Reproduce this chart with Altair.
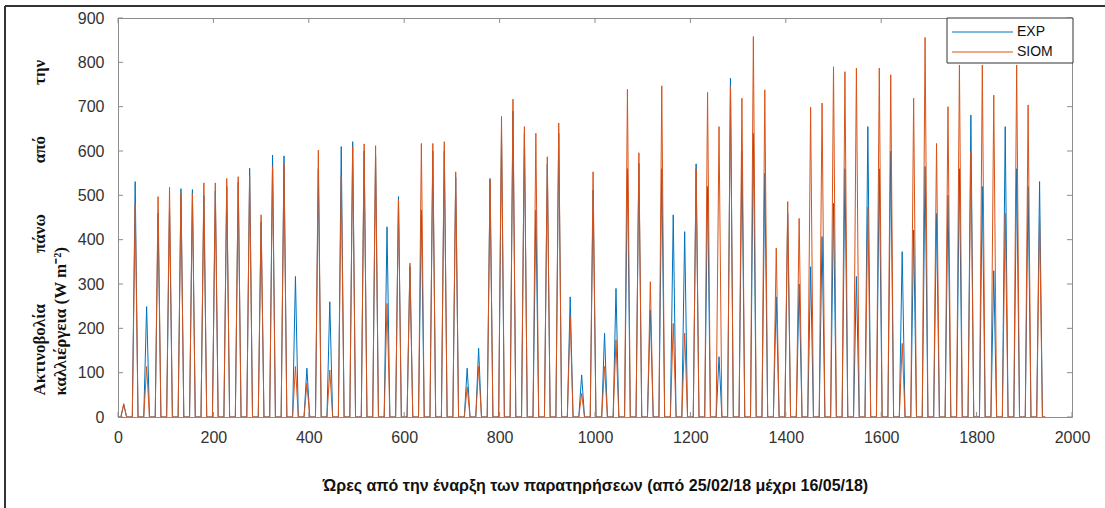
import altair as alt
import pandas as pd

# Daily peak irradiance (W m-2) for each day of the record, measured (EXP) and simulated (SIOM)
exp_peak = [
    28, 531, 249, 460, 470, 515, 513, 500, 510, 520,
    530, 561, 440, 591, 589, 317, 110, 560, 260, 610,
    621, 600, 590, 429, 497, 339, 467, 600, 600, 540,
    110, 155, 538, 640, 690, 640, 467, 570, 640, 271,
    95, 512, 189, 290, 560, 572, 241, 560, 456, 418,
    571, 520, 136, 764, 600, 640, 550, 271, 459, 300,
    339, 407, 482, 560, 317, 655, 560, 600, 373, 422,
    565, 459, 500, 560, 681, 520, 330, 655, 560, 520,
    531,
]
siom_peak = [
    30, 480, 114, 497, 518, 505, 505, 528, 528, 538,
    542, 545, 456, 565, 570, 114, 76, 602, 106, 542,
    610, 616, 612, 256, 490, 347, 617, 617, 621, 553,
    68, 114, 535, 678, 717, 655, 640, 587, 663, 226,
    53, 553, 114, 174, 739, 596, 305, 747, 211, 189,
    560, 732, 655, 745, 719, 858, 738, 381, 486, 448,
    699, 708, 790, 779, 787, 474, 787, 772, 166, 719,
    856, 617, 700, 794, 600, 794, 726, 460, 794, 704,
    450,
]

series_names = ["EXP", "SIOM"]
series_colors = ["#0072BD", "#D95319"]
x_ticks = list(range(0, 2001, 200))
y_ticks = list(range(0, 901, 100))

HOURS_PER_DAY = 24
SUNRISE, NOON, SUNSET = 6, 12, 18

# hourly table: zero overnight, daily peak at midday
rows = []
for name, peaks in zip(series_names, [exp_peak, siom_peak]):
    rows.append({"h": 0, "v": 0, "s": name})
    for d, p in enumerate(peaks):
        base = d * HOURS_PER_DAY
        rows.append({"h": base + SUNRISE, "v": 0, "s": name})
        rows.append({"h": base + NOON, "v": p, "s": name})
        rows.append({"h": base + SUNSET, "v": 0, "s": name})
    rows.append({"h": len(peaks) * HOURS_PER_DAY, "v": 0, "s": name})
df = pd.DataFrame(rows)

W, H = 954, 399
frame_grey = "#8c8c8c"
xs = alt.Scale(domain=[0, 2000], nice=False, zero=False)
ys = alt.Scale(domain=[0, 900], nice=False)

gap = "\u00a0" * 12
y_title = [
    "Ακτινοβολία" + gap + "πάνω" + gap + "από" + gap + "την",
    "καλλιέργεια (W m\u207b\u00b2)",
]

x_axis = alt.Axis(
    values=x_ticks, format="d", tickSize=0, domain=False, grid=False,
    labelFont="Liberation Sans", labelFontSize=16, labelColor="#333333",
    labelPadding=12, labelFlush=False,
    title="Ώρες από την έναρξη των παρατηρήσεων (από 25/02/18 μέχρι 16/05/18)",
    titleFont="Liberation Sans", titleFontSize=16, titleFontWeight="bold",
    titleColor="#111111", titleY=68, titleBaseline="middle",
)
y_axis = alt.Axis(
    values=y_ticks, format="d", tickSize=0, domain=False, grid=False,
    labelFont="Liberation Sans", labelFontSize=16, labelColor="#333333",
    labelPadding=14, labelFlush=False,
    title=y_title, titleFont="Liberation Serif", titleFontSize=17,
    titleFontWeight="bold", titleColor="#111111", titleAngle=270,
    titleAlign="left", titleBaseline="top", titleX=-87, titleY=377,
    titleLineHeight=21,
)
x_enc = alt.X("h:Q", scale=xs, axis=x_axis)
y_enc = alt.Y("v:Q", scale=ys, axis=y_axis)

lines = alt.Chart(df).mark_line(strokeWidth=1, clip=True).encode(
    x=x_enc,
    y=y_enc,
    color=alt.Color("s:N", scale=alt.Scale(domain=series_names, range=series_colors), legend=None),
    order=alt.Order("h:Q"),
)

# inward-pointing ticks on all four sides
xt = pd.DataFrame({"h": x_ticks})
yt = pd.DataFrame({"v": y_ticks})
tick_bottom = alt.Chart(xt).mark_rule(color=frame_grey).encode(
    x=x_enc, y=alt.value(H), y2=alt.value(H - 5))
tick_top = alt.Chart(xt).mark_rule(color=frame_grey).encode(
    x=x_enc, y=alt.value(0), y2=alt.value(5))
tick_left = alt.Chart(yt).mark_rule(color=frame_grey).encode(
    y=y_enc, x=alt.value(0), x2=alt.value(5))
tick_right = alt.Chart(yt).mark_rule(color=frame_grey).encode(
    y=y_enc, x=alt.value(W), x2=alt.value(W - 5))

# legend box in the upper-right corner
legend_box = alt.Chart(alt.Data(values=[{"s": "box"}])).mark_rect(
    fill="white", stroke="#333333", strokeWidth=1
).encode(x=alt.value(829), x2=alt.value(955), y=alt.value(0), y2=alt.value(45))

legend_layers = [legend_box]
for i, (name, col) in enumerate(zip(series_names, series_colors)):
    yy = 14 + 20 * i
    entry = alt.Data(values=[{"s": name}])
    legend_layers.append(alt.Chart(entry).mark_rule(color=col, strokeWidth=1).encode(
        x=alt.value(834), x2=alt.value(895), y=alt.value(yy)))
    legend_layers.append(alt.Chart(entry).mark_text(
        align="left", baseline="middle", font="Liberation Sans", fontSize=14, color="#111111"
    ).encode(x=alt.value(899), y=alt.value(yy), text="s:N"))

# outer figure border (top and left edges)
border = alt.Data(values=[{"s": "border"}])
border_top = alt.Chart(border).mark_rule(color="#333333", strokeWidth=2).encode(
    x=alt.value(-113), x2=alt.value(990), y=alt.value(-12))
border_left = alt.Chart(border).mark_rule(color="#333333", strokeWidth=2).encode(
    x=alt.value(-113), y=alt.value(-12), y2=alt.value(495))

chart = alt.layer(
    lines, tick_bottom, tick_top, tick_left, tick_right,
    *legend_layers, border_top, border_left,
).properties(
    width=W, height=H,
    padding={"left": 118, "top": 18, "right": 33, "bottom": 91},
    autosize="none",
).configure_view(stroke=frame_grey, strokeWidth=1)

chart.save("out.html", embed_options={"renderer": "svg", "actions": False})
